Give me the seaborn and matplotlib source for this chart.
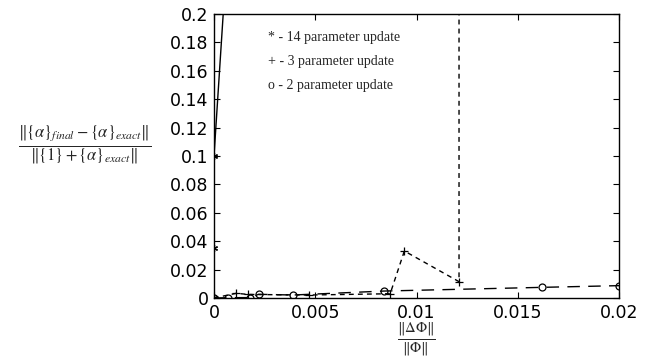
import matplotlib
matplotlib.use("Agg")
import matplotlib.pyplot as plt
import seaborn as sns
import pandas as pd

# ---- data ----
x14 = [0.0, 0.0, 0.0, 0.0010]
y14 = [0.0, 0.035, 0.100, 0.320]

x3 = [0.0, 0.0011, 0.0017, 0.0047, 0.0087, 0.0094, 0.0121, 0.0121]
y3 = [0.0, 0.0033, 0.0025, 0.0021, 0.0030, 0.0331, 0.0115, 1.0]

x2 = [0.0, 0.0007, 0.0018, 0.0022, 0.0039, 0.0084, 0.0162, 0.0200]
y2 = [0.0, 0.0002, 0.0003, 0.0026, 0.0021, 0.0049, 0.0075, 0.0087]

xticks = [0, 0.005, 0.01, 0.015, 0.02]
xticklabels = ["0", "0.005", "0.01", "0.015", "0.02"]
yticks = [0, 0.02, 0.04, 0.06, 0.08, 0.1, 0.12, 0.14, 0.16, 0.18, 0.2]
yticklabels = ["0", "0.02", "0.04", "0.06", "0.08", "0.1", "0.12", "0.14", "0.16", "0.18", "0.2"]

legend_texts = ["* - 14 parameter update", "+ - 3 parameter update", "o - 2 parameter update"]

sns.set_style("ticks")
plt.rcParams["mathtext.fontset"] = "stix"
plt.rcParams["font.family"] = ["DejaVu Sans"]

fig = plt.figure(figsize=(6.57, 3.63), dpi=100)
ax = fig.add_axes([214 / 657, 1 - 298 / 363, (619 - 214) / 657, (298 - 14) / 363])

common = dict(sort=False, estimator=None, color="k", ax=ax, legend=False)

sns.lineplot(x=x14, y=y14, marker=(6, 2, 0), markersize=5, markeredgecolor="k",
             markeredgewidth=0.9, linewidth=1.0, linestyle="-", **common)
sns.lineplot(x=x3, y=y3, marker="+", markersize=6, markeredgecolor="k",
             markeredgewidth=0.9, linewidth=1.0, linestyle=(0, (3.5, 3)), **common)
sns.lineplot(x=x2, y=y2, marker="o", markersize=5, markeredgecolor="k",
             markerfacecolor="none", markeredgewidth=0.9, linewidth=1.0,
             linestyle=(0, (9, 6)), **common)

ax.set_xlim(0, 0.02)
ax.set_ylim(0, 0.2)
ax.set_xticks(xticks)
ax.set_xticklabels(xticklabels)
ax.set_yticks(yticks)
ax.set_yticklabels(yticklabels)
ax.tick_params(direction="in", length=4, width=0.8, top=True, right=True,
               labelsize=12.5, pad=4, colors="k")
ax.set_xlabel("")
ax.set_ylabel("")
for s in ax.spines.values():
    s.set_visible(True)
    s.set_linewidth(1.0)
    s.set_color("k")

for i, t in enumerate(legend_texts):
    ax.text(0.133, 0.919 - i * 0.086, t, transform=ax.transAxes, ha="left", va="center",
            fontsize=10, family="Liberation Serif")

fig.text(85 / 657, 1 - 145 / 363,
         r"$\frac{\|\{\alpha\}_{final}-\{\alpha\}_{exact}\|}{\|\{1\}+\{\alpha\}_{exact}\|}$",
         ha="center", va="center", fontsize=17)
fig.text(416 / 657, 1 - 340 / 363, r"$\frac{\|\Delta\Phi\|}{\|\Phi\|}$",
         ha="center", va="center", fontsize=15)

fig.savefig("out.png", dpi=100)
